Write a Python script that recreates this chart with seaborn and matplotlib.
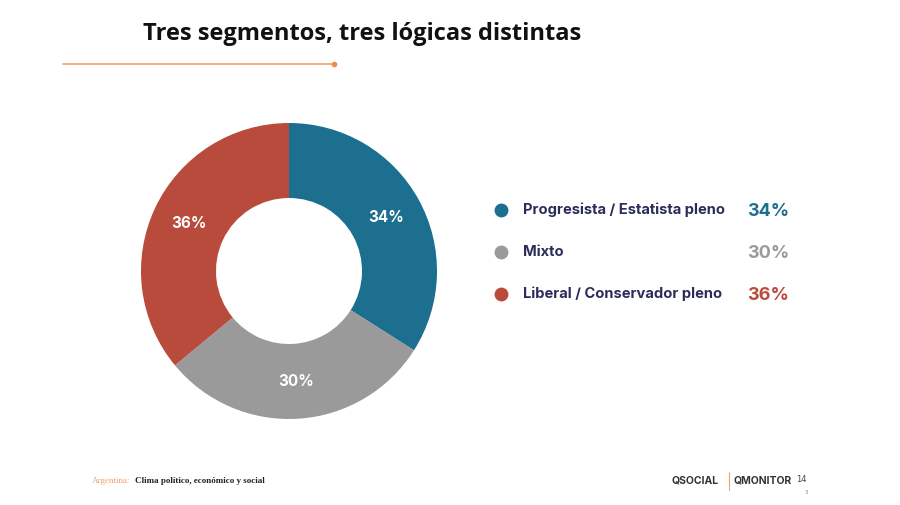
import matplotlib
matplotlib.use("Agg")
import matplotlib.pyplot as plt
import seaborn as sns
import numpy as np

sns.set_theme(style="white")
plt.rcParams['font.family'] = ['DejaVu Sans']

categories = ["Progresista / Estatista pleno", "Mixto", "Liberal / Conservador pleno"]
values = [34, 30, 36]
value_labels = ["34%", "30%", "36%"]
colors = ["#1c6f8e", "#9a9a9a", "#b84b3c"]
title = "Tres segmentos, tres lógicas distintas"

W, H = 900, 505
fig = plt.figure(figsize=(9, 5.05), dpi=100)
fig.patch.set_facecolor("white")

def fx(x):
    return x / W

def fy(y):
    return 1 - y / H

# Title and decorative line
fig.text(fx(143), fy(34), title, fontsize=17, fontweight="bold", fontstretch="condensed",
         color="#111111", va="center", ha="left", family="Open Sans")
fig.add_artist(plt.Line2D([fx(63), fx(334)], [fy(64), fy(64)], color="#f4a26b", lw=1.2))
fig.add_artist(plt.Line2D([fx(334)], [fy(64)], marker="o", markersize=3, color="#f08a4b"))

# Donut
cx, cy, R = 289, 271, 148
ax = fig.add_axes([fx(cx - 150), fy(cy + 150), 300 / W, 300 / H])
wedges, _ = ax.pie(values, colors=colors, startangle=90, counterclock=False,
                   radius=R / 150, wedgeprops=dict(width=75 / 150, edgecolor="white", linewidth=0))
ax.set_xlim(-1, 1)
ax.set_ylim(-1, 1)
ax.set_aspect("equal")
ax.axis("off")

start = 90.0
total = sum(values)
rlab = (R - 37) / 150
for v, lab in zip(values, value_labels):
    ang = start - v / total * 360 / 2
    start -= v / total * 360
    x = rlab * np.cos(np.deg2rad(ang))
    y = rlab * np.sin(np.deg2rad(ang))
    ax.text(x, y, lab, color="white", fontsize=11, fontweight="bold",
            ha="center", va="center", family="Inter")

# Legend
ys = [210, 252, 294]
for c, lab, vl, yy in zip(colors, categories, value_labels, ys):
    fig.add_artist(plt.Line2D([fx(501)], [fy(yy)], marker="o", markersize=10,
                              color=c, markeredgewidth=0))
    fig.text(fx(523), fy(yy), lab, fontsize=10.6, fontweight="bold", color="#2b2c5a",
             va="center", ha="left", family="Inter")
    fig.text(fx(789), fy(yy + 2), vl, fontsize=13, fontweight="bold", color=c,
             va="center", ha="right", family="Inter")

# Footer
fig.text(fx(92), fy(481), "Argentina:", fontsize=6.5, color="#f2a26a",
         va="center", ha="left", family="Liberation Serif")
fig.text(fx(135), fy(481), "Clima político, económico y social", fontsize=6.5,
         fontweight="bold", color="#222222", va="center", ha="left", family="Liberation Serif")
fig.text(fx(672), fy(480), "QSOCIAL", fontsize=7.5, fontweight="bold", color="#333333",
         va="center", ha="left", family="Inter")
fig.add_artist(plt.Line2D([fx(729), fx(729)], [fy(472), fy(490)], color="#f2a26a", lw=0.8))
fig.text(fx(733), fy(480), "QMONITOR", fontsize=7.5, fontweight="bold", color="#333333",
         va="center", ha="left", family="Inter")
fig.text(fx(796), fy(480), "14", fontsize=6, color="#444444", va="center", ha="left")
fig.text(fx(805), fy(493), "3", fontsize=4, color="#888888", va="center", ha="left")

fig.savefig("out.png", dpi=100, facecolor="white")
